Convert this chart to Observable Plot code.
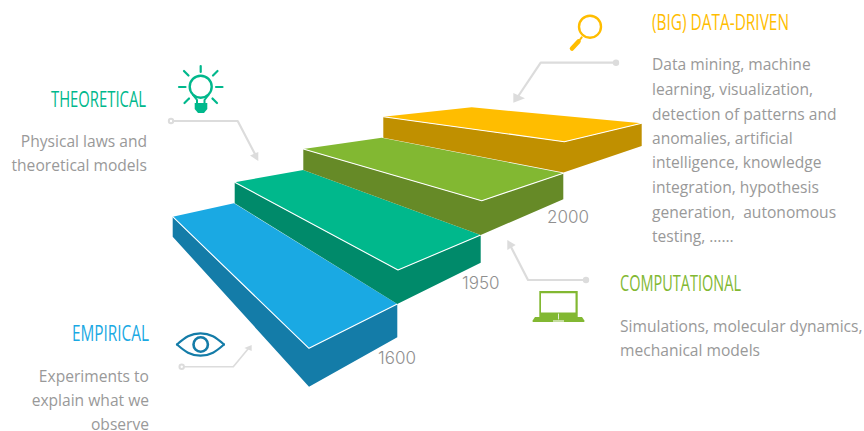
<!DOCTYPE html>
<html><head><meta charset="utf-8">
<style>html,body{margin:0;padding:0;background:#fff}svg{display:block}</style>
<script src="https://cdn.jsdelivr.net/npm/d3@7"></script>
<script src="https://cdn.jsdelivr.net/npm/@observablehq/plot@0.6"></script>
</head><body><div id="chart"></div>
<script>
// Steps: [top face, side face, colours]
const steps = [
  {top:[[172.7,216.7],[234,203.3],[397.3,304],[309,348.3]],
   side:[[172.7,216.7],[309,348.3],[397.3,304],[397.3,337.3],[309,386.7],[172.7,236.7]],
   edge:[[172.7,216.7],[309,348.3],[397.3,304]], c:"#1aa9e3", d:"#147ca8"},
  {top:[[234.7,182.3],[303.3,170],[480.7,235],[398,270]],
   side:[[234.7,182.3],[398,270],[480.7,235],[480.7,262.7],[397.3,304],[234.7,203.3]],
   edge:[[234.7,182.3],[398,270],[480.7,235]], c:"#00b88c", d:"#008a6a"},
  {top:[[303.3,149],[381.7,137.7],[563.3,173.3],[481.7,200.7]],
   side:[[303.3,149],[481.7,200.7],[563.3,173.3],[563.3,199.3],[480.7,235],[303.3,170]],
   edge:[[303.3,149],[481.7,200.7],[563.3,173.3]], c:"#82b832", d:"#668a27"},
  {top:[[383.3,116.7],[471.7,107.3],[641.7,123.3],[564.3,141.7]],
   side:[[383.3,116.7],[564.3,141.7],[641.7,123.3],[641.7,146],[563.5,172.5],[383.3,137.7]],
   edge:[[383.3,116.7],[564.3,141.7],[641.7,123.3]], c:"#ffbd00", d:"#c09000"}
];
const years = [["1600",378,358],["1950",462,283],["2000",547,217]];
const headingsL = [["THEORETICAL",146,99,"#00b88c",95],["EMPIRICAL",149,333,"#1aa9e3",77]];
const headingsR = [["(BIG) DATA-DRIVEN",652,22,"#ffbd00",137],["COMPUTATIONAL",620,283,"#82b832",121]];
const bodyL = [["Physical laws and",147,141],["theoretical models",147,165],
  ["Experiments to",149,376],["explain what we",149,400],["observe",149,424]];
const bodyR = [["Data mining, machine",652,64],["learning, visualization,",652,89],
  ["detection of patterns and",652,114],["anomalies, artificial",652,138],
  ["intelligence, knowledge",652,162],["integration, hypothesis",652,187],
  ["generation,  autonomous",652,212],["testing, ……",652,236],
  ["Simulations, molecular dynamics,",620,326],["mechanical models",620,350]];
// connectors: path, arrow head, dot
const connectors = [
  {p:[[171,121],[237.7,121],[256,156]], h:[[250,155.5],[258.3,152],[258.3,161]], w:2.2, hollow:true},
  {p:[[616,62.7],[540.7,62.7],[517,98]], h:[[513.3,93],[525,98.3],[513.3,102.7]], w:2.2},
  {p:[[586,280],[528,280],[510,245]], h:[[507.3,250],[515.7,245],[507.3,240]], w:2.2},
  {p:[[181.7,366.7],[233.3,366.7],[248,349]], h:[[244.3,348],[251.7,345],[251.7,351]], w:1.6, hollow:true}
];
const grey = "#dcdcdc", textGrey = "#999999", yearGrey = "#8f8f8f";
const teal = "#00b88c", amber = "#ffbd00", lime = "#82b832", eyeBlue = "#147ca8";
const rays = [[[200.7,66],[200.7,72]],[[184,71],[188.5,75.5]],[[217.5,71],[213,75.5]],
  [[179,87],[185.5,87]],[[216,87],[222.5,87]],[[184.5,103],[189,98.5]],[[217,103],[212.5,98.5]]];
const bulbNeckL = [[193,95],[197,100],[197,104]];
const bulbNeckR = [[208.5,95],[204.5,100],[204.5,104]];
const bulbBase = [[194.7,103],[207.3,103],[207.3,109],[204,113],[198,113],[194.7,109]];
const laptopBody = [[539.3,291],[577.7,291],[577.7,318],[539.3,318]];
const laptopScreen = [[541,293.3],[575.5,293.3],[575.5,312.5],[541,312.5]];
const laptopBase = [[535,317],[582,317],[584.7,321],[584,322],[533,322],[532.3,321]];
const laptopPad = [[553,320],[564,320],[564,322],[553,322]];
const laptopCam = [[558.5,314],[558.5,319]];
const eyeTop = [[177,344.5],[188,336.3],[200.5,333.3],[213,336.3],[224,344.5]];
const eyeBottom = [[177,344.5],[188,352.7],[200.5,355.7],[213,352.7],[224,344.5]];

const X = d=>d[0], Y = d=>d[1];
const poly = (pts,fill)=>Plot.line(pts,{x:X,y:Y,fill,stroke:"none",curve:"linear-closed"});
const line = (pts,stroke,w,extra={})=>Plot.line(pts,{x:X,y:Y,stroke,strokeWidth:w,strokeLinecap:"round",...extra});
const ring = (x,y,r,stroke,w,fill="none")=>Plot.dot([[x,y]],{x:X,y:Y,r,stroke,strokeWidth:w,fill});
const texts = (rows,o)=>Plot.text(rows,{x:d=>d[1],y:d=>d[2],text:d=>d[0],dy:1,...o});

const body = "'Open Sans'", head = "'Open Sans'";
const plot = Plot.plot({
  width:864,height:431,margin:0,
  x:{domain:[0,864],range:[-0.5,863.5],axis:null},
  y:{domain:[0,431],range:[-0.5,430.5],axis:null},
  marks:[
    ...steps.flatMap(s=>[poly(s.side,s.d),poly(s.top,s.c),line(s.edge,"#fff",1.1)]),
    ...connectors.flatMap(c=>[line(c.p,grey,c.w),poly(c.h,grey),ring(c.p[0][0],c.p[0][1],3.2,"none",0,grey),
       ...(c.hollow?[ring(c.p[0][0],c.p[0][1],1.2,"none",0,"#fff")]:[])]),
    // bulb
    ...rays.map(r=>line(r,teal,2.2)),
    ring(200.7,86.7,11,teal,2.4),
    line(bulbNeckL,teal,2),line(bulbNeckR,teal,2),
    poly(bulbBase,teal),
    // magnifier
    ring(590,26.7,11,amber,2.4),
    line([[581.7,37.3],[579,41]],amber,2),
    line([[578.5,41.5],[572,48.5]],amber,4.5),
    // laptop
    poly(laptopBody,lime),poly(laptopScreen,"#fff"),poly(laptopBase,lime),
    poly(laptopPad,"#c5dd9f"),line(laptopCam,"#e6f0d6",1),
    // eye
    line(eyeTop,eyeBlue,2.2,{curve:"natural"}),
    line(eyeBottom,eyeBlue,2.2,{curve:"natural"}),
    ring(200.7,344.5,7.2,eyeBlue,2.6),
    texts(years,{fontFamily:"Inter",fontWeight:300,fontSize:17,fill:yearGrey,textAnchor:"start"}),
    texts(headingsL,{className:"hd",fontFamily:head,fontSize:21.5,fill:d=>d[3],textAnchor:"end"}),
    texts(headingsR,{className:"hd",fontFamily:head,fontSize:21.5,fill:d=>d[3],textAnchor:"start"}),
    texts(bodyL,{fontFamily:body,fontSize:15.6,fill:textGrey,textAnchor:"end"}),
    texts(bodyR,{fontFamily:body,fontSize:15.6,fill:textGrey,textAnchor:"start"})
  ]
});
document.getElementById("chart").append(plot);
// headings are set in a condensed face: fit each to its measured width
const headWidths = new Map([...headingsL,...headingsR].map(d=>[d[0],d[4]]));
d3.select(plot).selectAll(".hd text").each(function(){
  this.setAttribute("textLength",headWidths.get(this.textContent));
  this.setAttribute("lengthAdjust","spacingAndGlyphs");
});
</script></body></html>
